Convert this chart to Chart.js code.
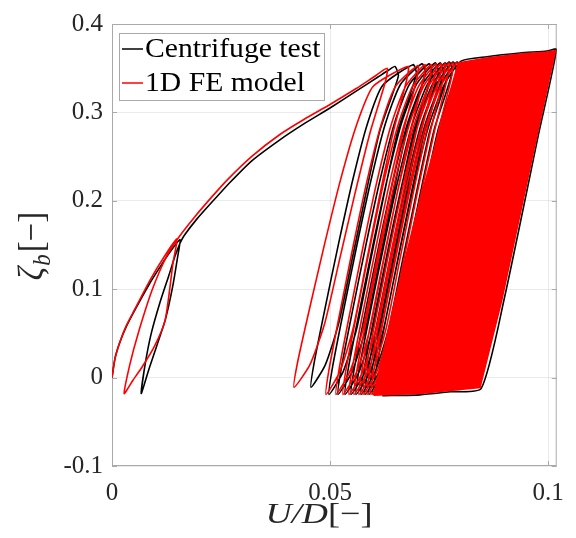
<!DOCTYPE html>
<html>
<head>
<meta charset="utf-8">
<script src="https://cdn.jsdelivr.net/npm/chart.js@4.4.1/dist/chart.umd.min.js"></script>
<style>
  html, body { margin: 0; padding: 0; background: #fff; }
  #wrap { width: 576px; height: 538px; }
</style>
</head>
<body>
<div id="wrap"><canvas id="hyst" width="576" height="538"></canvas></div>
<script>
// Axis ticks
const xTicks = [0, 0.05, 0.1];
const xTickLabels = ['0', '0.05', '0.1'];
const yTicks = [-0.1, 0, 0.1, 0.2, 0.3, 0.4];
const yTickLabels = ['-0.1', '0', '0.1', '0.2', '0.3', '0.4'];

const seriesNames = ['Centrifuge test', '1D FE model'];

// Centrifuge test (black): backbone, small loop, backbone, then ratcheting cycles
const testU = [
  0, 0.0007, 0.0018, 0.0033, 0.0053, 0.0087, 0.0110, 0.0133, 0.0156,
  0.0150, 0.0138, 0.0122, 0.0102, 0.0085, 0.0067,
  0.0076, 0.0090, 0.0110, 0.0130, 0.0145, 0.0156,
  0.0166, 0.0194, 0.0232, 0.0271, 0.0320, 0.0385, 0.0440, 0.0500, 0.0560, 0.0610, 0.0635, 0.0649,
  // cycle 1
  0.06568, 0.06144, 0.05817, 0.05508, 0.05200, 0.04892, 0.04564,
  0.04641, 0.04892, 0.05200, 0.05528, 0.05855, 0.06202, 0.06904,
  // cycle 2
  0.06981, 0.06557, 0.06230, 0.05921, 0.05613, 0.05305, 0.04977,
  0.05054, 0.05305, 0.05613, 0.05941, 0.06268, 0.06615, 0.07110,
  // cycle 3
  0.07187, 0.06763, 0.06436, 0.06127, 0.05819, 0.05511, 0.05183,
  0.05260, 0.05511, 0.05819, 0.06147, 0.06474, 0.06821, 0.07271,
  // cycle 4
  0.07348, 0.06924, 0.06597, 0.06288, 0.05980, 0.05672, 0.05344,
  0.05421, 0.05672, 0.05980, 0.06308, 0.06635, 0.06982, 0.07409,
  // cycle 5
  0.07486, 0.07062, 0.06735, 0.06426, 0.06118, 0.05810, 0.05482,
  0.05559, 0.05810, 0.06118, 0.06446, 0.06773, 0.07120, 0.07523,
  // cycle 6
  0.07600, 0.07176, 0.06849, 0.06540, 0.06232, 0.05924, 0.05596,
  0.05673, 0.05924, 0.06232, 0.06560, 0.06887, 0.07234, 0.07638,
  // cycle 7
  0.07715, 0.07291, 0.06964, 0.06655, 0.06347, 0.06039, 0.05711,
  0.05788, 0.06039, 0.06347, 0.06675, 0.07002, 0.07349, 0.07730,
  // cycle 8
  0.07807, 0.07383, 0.07056, 0.06747, 0.06439, 0.06131, 0.05803,
  0.05880, 0.06131, 0.06439, 0.06767, 0.07094, 0.07441, 0.07821,
  // cycle 9
  0.07898, 0.07474, 0.07147, 0.06838, 0.06530, 0.06222, 0.05894,
  0.05971, 0.06222, 0.06530, 0.06858, 0.07185, 0.07532, 0.07913,
  // cycle 10
  0.07990, 0.07566, 0.07239, 0.06930, 0.06622, 0.06314, 0.05986,
  0.06063, 0.06314, 0.06622, 0.06950, 0.07277, 0.07624, 0.08005,
  // outer edge of the remaining cycles
  0.0860, 0.0936, 0.0998, 0.1019, 0.0980, 0.0899, 0.08465, 0.0776, 0.0706, 0.0620
];
const testZeta = [
  0, 0.022, 0.040, 0.058, 0.077, 0.107, 0.125, 0.142, 0.156,
  0.135, 0.100, 0.065, 0.035, 0.010, -0.018,
  0.015, 0.050, 0.085, 0.115, 0.138, 0.152,
  0.161, 0.179, 0.200, 0.221, 0.245, 0.269, 0.287, 0.305, 0.324, 0.340, 0.348, 0.352,
  0.3411, 0.2794, 0.2068, 0.1342, 0.0616, 0.0144, -0.011,
  0.0180, 0.0798, 0.1524, 0.2250, 0.2867, 0.3302, 0.354,
  0.343, 0.2794, 0.2048, 0.1302, 0.0556, 0.0071, -0.019,
  0.0108, 0.0743, 0.1489, 0.2235, 0.2869, 0.3316, 0.355,
  0.344, 0.2794, 0.2048, 0.1302, 0.0556, 0.0071, -0.019,
  0.0108, 0.0743, 0.1489, 0.2235, 0.2869, 0.3316, 0.355,
  0.344, 0.2794, 0.2048, 0.1302, 0.0556, 0.0071, -0.019,
  0.0108, 0.0743, 0.1489, 0.2235, 0.2869, 0.3316, 0.356,
  0.345, 0.2794, 0.2048, 0.1302, 0.0556, 0.0071, -0.019,
  0.0108, 0.0743, 0.1489, 0.2235, 0.2869, 0.3316, 0.356,
  0.345, 0.2794, 0.2048, 0.1302, 0.0556, 0.0071, -0.019,
  0.0108, 0.0743, 0.1489, 0.2235, 0.2869, 0.3316, 0.356,
  0.345, 0.2794, 0.2048, 0.1302, 0.0556, 0.0071, -0.019,
  0.0108, 0.0743, 0.1489, 0.2235, 0.2869, 0.3316, 0.357,
  0.346, 0.2794, 0.2048, 0.1302, 0.0556, 0.0071, -0.019,
  0.0108, 0.0743, 0.1489, 0.2235, 0.2869, 0.3316, 0.357,
  0.346, 0.2794, 0.2048, 0.1302, 0.0556, 0.0071, -0.019,
  0.0108, 0.0743, 0.1489, 0.2235, 0.2869, 0.3316, 0.357,
  0.346, 0.2794, 0.2048, 0.1302, 0.0556, 0.0071, -0.019,
  0.0108, 0.0743, 0.1489, 0.2235, 0.2869, 0.3316, 0.358,
  0.3630, 0.3672, 0.3694, 0.3712, 0.2793, 0.0878, -0.0125, -0.0160, -0.0195, -0.0205
];

// 1D FE model (red)
const modelU = [
  0, 0.0007, 0.0018, 0.0033, 0.0053, 0.0087, 0.0120, 0.0149,
  0.0140, 0.0122, 0.0097, 0.0069, 0.0048, 0.0028,
  0.0041, 0.0060, 0.0092, 0.0125,
  0.0152, 0.0190, 0.0230, 0.0265, 0.0320, 0.0385, 0.0440, 0.0500, 0.0560, 0.0600, 0.0631,
  // cycle 1
  0.06275, 0.05923, 0.05560, 0.05219, 0.04878, 0.04537, 0.04174,
  0.04259, 0.04537, 0.04878, 0.05241, 0.05603, 0.05987, 0.06788,
  // cycle 2
  0.06760, 0.06450, 0.06130, 0.05829, 0.05528, 0.05228, 0.04908,
  0.04983, 0.05228, 0.05528, 0.05848, 0.06168, 0.06506, 0.07018,
  // cycle 3
  0.06990, 0.06680, 0.06360, 0.06059, 0.05758, 0.05458, 0.05138,
  0.05213, 0.05458, 0.05758, 0.06078, 0.06398, 0.06736, 0.07178,
  // cycle 4
  0.07150, 0.06840, 0.06520, 0.06219, 0.05918, 0.05618, 0.05298,
  0.05373, 0.05618, 0.05918, 0.06238, 0.06558, 0.06896, 0.07316,
  // cycle 5
  0.07288, 0.06978, 0.06658, 0.06357, 0.06056, 0.05756, 0.05436,
  0.05511, 0.05756, 0.06056, 0.06376, 0.06696, 0.07034, 0.07430,
  // cycle 6
  0.07402, 0.07092, 0.06772, 0.06471, 0.06170, 0.05870, 0.05550,
  0.05625, 0.05870, 0.06170, 0.06490, 0.06810, 0.07148, 0.07545,
  // cycle 7
  0.07517, 0.07207, 0.06887, 0.06586, 0.06285, 0.05985, 0.05665,
  0.05740, 0.05985, 0.06285, 0.06605, 0.06925, 0.07263, 0.07637,
  // cycle 8
  0.07609, 0.07299, 0.06979, 0.06678, 0.06377, 0.06077, 0.05757,
  0.05832, 0.06077, 0.06377, 0.06697, 0.07017, 0.07355, 0.07729,
  // cycle 9
  0.07701, 0.07391, 0.07071, 0.06770, 0.06469, 0.06169, 0.05849,
  0.05924, 0.06169, 0.06469, 0.06789, 0.07109, 0.07447, 0.07820,
  // cycle 10
  0.07792, 0.07482, 0.07162, 0.06861, 0.06560, 0.06260, 0.05940,
  0.06015, 0.06260, 0.06560, 0.06880, 0.07200, 0.07538, 0.07912
];
const modelZeta = [
  0, 0.022, 0.040, 0.059, 0.078, 0.110, 0.137, 0.157,
  0.130, 0.065, 0.035, 0.012, -0.003, -0.018,
  0.015, 0.050, 0.099, 0.137,
  0.158, 0.182, 0.205, 0.224, 0.250, 0.275, 0.292, 0.309, 0.327, 0.340, 0.350,
  0.3356, 0.2778, 0.2056, 0.1334, 0.0612, 0.0143, -0.011,
  0.0179, 0.0793, 0.1515, 0.2237, 0.2850, 0.3293, 0.352,
  0.3372, 0.2778, 0.2036, 0.1294, 0.0552, 0.0070, -0.019,
  0.0107, 0.0738, 0.1480, 0.2222, 0.2852, 0.3297, 0.353,
  0.338, 0.2778, 0.2036, 0.1294, 0.0552, 0.0070, -0.019,
  0.0107, 0.0738, 0.1480, 0.2222, 0.2852, 0.3297, 0.354,
  0.339, 0.2778, 0.2036, 0.1294, 0.0552, 0.0070, -0.019,
  0.0107, 0.0738, 0.1480, 0.2222, 0.2852, 0.3297, 0.354,
  0.339, 0.2778, 0.2036, 0.1294, 0.0552, 0.0070, -0.019,
  0.0107, 0.0738, 0.1480, 0.2222, 0.2852, 0.3297, 0.355,
  0.340, 0.2778, 0.2036, 0.1294, 0.0552, 0.0070, -0.019,
  0.0107, 0.0738, 0.1480, 0.2222, 0.2852, 0.3297, 0.355,
  0.340, 0.2778, 0.2036, 0.1294, 0.0552, 0.0070, -0.019,
  0.0107, 0.0738, 0.1480, 0.2222, 0.2852, 0.3297, 0.355,
  0.340, 0.2778, 0.2036, 0.1294, 0.0552, 0.0070, -0.019,
  0.0107, 0.0738, 0.1480, 0.2222, 0.2852, 0.3297, 0.356,
  0.341, 0.2778, 0.2036, 0.1294, 0.0552, 0.0070, -0.019,
  0.0107, 0.0738, 0.1480, 0.2222, 0.2852, 0.3297, 0.356,
  0.341, 0.2778, 0.2036, 0.1294, 0.0552, 0.0070, -0.019,
  0.0107, 0.0738, 0.1480, 0.2222, 0.2852, 0.3297, 0.357
];

// Envelope of the many later FE cycles that merge into a solid red band
const bulkU = [0.0600, 0.0649, 0.0706, 0.0764, 0.0794, 0.0860, 0.0936, 0.0998, 0.1017, 0.0977, 0.0894, 0.0844, 0.0775, 0.0706, 0.0600];
const bulkZeta = [-0.0200, 0.0878, 0.2005, 0.3018, 0.3560, 0.3615, 0.3660, 0.3682, 0.3700, 0.2793, 0.0878, -0.0113, -0.0146, -0.0180, -0.0200];

const BOX_COLOR = '#a9a9a9';
const TEXT_COLOR = '#262626';
const SERIF = '"Liberation Serif", "DejaVu Serif", serif';

function toPoints(us, zs) {
  return us.map((u, i) => ({ x: u, y: zs[i] }));
}

// frame round the axes with small inward ticks (matlab style)
const framePlugin = {
  id: 'frame',
  beforeDatasetsDraw(chart) {
    const { ctx, chartArea: a, scales } = chart;
    ctx.save();
    ctx.strokeStyle = BOX_COLOR;
    ctx.lineWidth = 1;
    ctx.strokeRect(a.left + 0.5, a.top + 0.5, a.width - 1, a.height - 1);
    ctx.beginPath();
    xTicks.forEach(v => {
      const px = Math.round(scales.x.getPixelForValue(v)) + 0.5;
      ctx.moveTo(px, a.bottom); ctx.lineTo(px, a.bottom - 5);
      ctx.moveTo(px, a.top); ctx.lineTo(px, a.top + 5);
    });
    yTicks.forEach(v => {
      const py = Math.round(scales.y.getPixelForValue(v)) + 0.5;
      ctx.moveTo(a.left, py); ctx.lineTo(a.left + 5, py);
      ctx.moveTo(a.right, py); ctx.lineTo(a.right - 5, py);
    });
    ctx.stroke();
    ctx.restore();
  }
};

// write a run of [text, font, dy, gap] parts starting at x
function drawRun(ctx, parts, x, y) {
  parts.forEach(p => {
    ctx.font = p[1];
    ctx.fillText(p[0], x, y + (p[2] || 0));
    x += ctx.measureText(p[0]).width + (p[3] || 0);
  });
  return x;
}
function runWidth(ctx, parts) {
  let w = 0;
  parts.forEach(p => { ctx.font = p[1]; w += ctx.measureText(p[0]).width + (p[3] || 0); });
  return w;
}

// legend box + axis titles with math style text
const textPlugin = {
  id: 'texts',
  afterDraw(chart) {
    const { ctx, chartArea: a } = chart;
    ctx.save();

    // legend
    const lx = a.left + 7, ly = a.top + 9, lw = 205, lh = 67;
    ctx.fillStyle = '#fff';
    ctx.fillRect(lx, ly, lw, lh);
    ctx.strokeStyle = BOX_COLOR;
    ctx.lineWidth = 1;
    ctx.strokeRect(lx + 0.5, ly + 0.5, lw, lh);
    ctx.textBaseline = 'alphabetic';
    const rows = [
      { name: seriesNames[0], color: '#000000', base: ly + 24 },
      { name: seriesNames[1], color: '#ff0000', base: ly + 58 }
    ];
    rows.forEach(r => {
      ctx.strokeStyle = r.color;
      ctx.lineWidth = 1.5;
      ctx.beginPath();
      ctx.moveTo(lx + 3, r.base - 8);
      ctx.lineTo(lx + 24, r.base - 8);
      ctx.stroke();
      ctx.fillStyle = '#000';
      ctx.save();
      ctx.translate(lx + 26, r.base);
      ctx.scale(1.06, 1);
      ctx.font = '28px ' + SERIF;
      ctx.fillText(r.name, 0, 0);
      ctx.restore();
    });

    ctx.fillStyle = TEXT_COLOR;

    // x title  U/D[-]
    const xParts = [['U/D', 'italic 29px ' + SERIF], ['[\u2212]', '29px ' + SERIF]];
    const sx = 1.25;
    const xw = runWidth(ctx, xParts) * sx;
    ctx.save();
    ctx.translate(319 - xw / 2, 523);
    ctx.scale(sx, 1);
    drawRun(ctx, xParts, 0, 0);
    ctx.restore();

    // y title  zeta_b[-], rotated
    const yParts = [
      ['\u03b6', 'italic 33px ' + SERIF, 0, 1],
      ['b', 'italic 23px ' + SERIF, 6, 2],
      ['[\u2212]', '33px ' + SERIF, 0, 0]
    ];
    const yw = runWidth(ctx, yParts);
    ctx.save();
    ctx.translate(43, 246 + yw / 2);
    ctx.rotate(-Math.PI / 2);
    ctx.scale(1, 1.1);
    drawRun(ctx, yParts, 0, 0);
    ctx.restore();

    ctx.restore();
  }
};

const ctx = document.getElementById('hyst').getContext('2d');

new Chart(ctx, {
  type: 'line',
  data: {
    datasets: [
      {
        label: seriesNames[1],
        data: toPoints(modelU, modelZeta),
        borderColor: '#ff0000',
        borderWidth: 1.6,
        tension: 0.2,
        pointRadius: 0,
        fill: false,
        order: 0
      },
      {
        label: seriesNames[1] + ' (later cycles)',
        data: toPoints(bulkU, bulkZeta),
        borderColor: '#ff0000',
        backgroundColor: '#ff0000',
        borderWidth: 1.6,
        tension: 0,
        pointRadius: 0,
        fill: 'shape',
        order: 1
      },
      {
        label: seriesNames[0],
        data: toPoints(testU, testZeta),
        borderColor: '#000000',
        borderWidth: 1.6,
        tension: 0.2,
        pointRadius: 0,
        fill: false,
        order: 2
      }
    ]
  },
  options: {
    responsive: false,
    animation: false,
    events: [],
    layout: { padding: { top: 22, right: 19, left: 0, bottom: 0 } },
    plugins: {
      legend: { display: false },
      tooltip: { enabled: false }
    },
    scales: {
      x: {
        type: 'linear',
        min: 0,
        max: 0.102,
        afterBuildTicks: s => { s.ticks = xTicks.map(v => ({ value: v })); },
        afterFit: s => { s.height = 72; },
        grid: { color: 'rgba(0,0,0,0.08)', drawTicks: false },
        border: { display: false },
        ticks: {
          padding: 12,
          color: TEXT_COLOR,
          font: { family: SERIF, size: 25 },
          maxRotation: 0,
          callback: v => xTickLabels[xTicks.indexOf(v)]
        }
      },
      y: {
        type: 'linear',
        min: -0.1,
        max: 0.4,
        afterBuildTicks: s => { s.ticks = yTicks.map(v => ({ value: v })); },
        afterFit: s => { s.width = 112; },
        grid: { color: 'rgba(0,0,0,0.08)', drawTicks: false },
        border: { display: false },
        ticks: {
          padding: 9,
          color: TEXT_COLOR,
          font: { family: SERIF, size: 25 },
          callback: v => yTickLabels[yTicks.indexOf(v)]
        }
      }
    }
  },
  plugins: [framePlugin, textPlugin]
});
</script>
</body>
</html>
